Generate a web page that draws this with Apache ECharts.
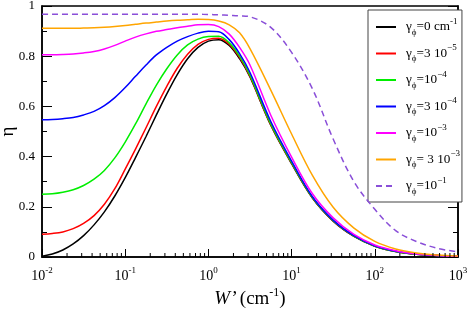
<!DOCTYPE html>
<html><head><meta charset="utf-8">
<script src="https://cdn.jsdelivr.net/npm/echarts@6/dist/echarts.min.js"></script>
<style>html,body{margin:0;padding:0;background:#fff}#c{width:469px;height:309px}</style>
</head><body><div id="c"></div>
<script>
// W' sample positions (cm^-1)
const W = [0.01, 0.0133, 0.0178, 0.0237, 0.0316, 0.0422, 0.0562, 0.075, 0.1, 0.133, 0.178, 0.237, 0.316, 0.422, 0.562, 0.75, 1, 1.33, 1.78, 2.37, 3.16, 5.62, 10, 17.8, 31.6, 56.2, 100, 178, 316, 562, 1000];
// efficiency eta for each dephasing rate
const eta0   = [0.003, 0.012, 0.028, 0.052, 0.085, 0.128, 0.18, 0.243, 0.316, 0.396, 0.48, 0.566, 0.65, 0.727, 0.79, 0.835, 0.86, 0.866, 0.843, 0.79, 0.717, 0.525, 0.372, 0.235, 0.143, 0.082, 0.043, 0.022, 0.011, 0.006, 0.003];
const eta3e5 = [0.091, 0.094, 0.10, 0.113, 0.134, 0.165, 0.21, 0.272, 0.35, 0.43, 0.515, 0.60, 0.68, 0.752, 0.808, 0.847, 0.867, 0.872, 0.848, 0.795, 0.72, 0.527, 0.374, 0.236, 0.144, 0.083, 0.044, 0.022, 0.011, 0.006, 0.003];
const eta1e4 = [0.25, 0.252, 0.258, 0.268, 0.285, 0.31, 0.345, 0.395, 0.458, 0.53, 0.61, 0.685, 0.75, 0.805, 0.845, 0.868, 0.878, 0.879, 0.853, 0.80, 0.724, 0.53, 0.376, 0.237, 0.145, 0.083, 0.044, 0.022, 0.011, 0.006, 0.003];
const eta3e4 = [0.547, 0.548, 0.551, 0.556, 0.566, 0.58, 0.603, 0.635, 0.675, 0.72, 0.765, 0.805, 0.835, 0.86, 0.878, 0.892, 0.899, 0.897, 0.866, 0.81, 0.735, 0.54, 0.382, 0.24, 0.147, 0.085, 0.045, 0.023, 0.012, 0.006, 0.003];
const eta1e3 = [0.806, 0.806, 0.807, 0.809, 0.813, 0.819, 0.829, 0.843, 0.86, 0.876, 0.889, 0.899, 0.906, 0.913, 0.919, 0.925, 0.926, 0.918, 0.888, 0.835, 0.765, 0.565, 0.398, 0.252, 0.156, 0.09, 0.048, 0.025, 0.012, 0.006, 0.003];
const eta3e3 = [0.911, 0.911, 0.911, 0.911, 0.912, 0.913, 0.915, 0.918, 0.922, 0.927, 0.932, 0.936, 0.94, 0.943, 0.945, 0.947, 0.946, 0.94, 0.925, 0.893, 0.83, 0.665, 0.49, 0.325, 0.198, 0.115, 0.062, 0.032, 0.016, 0.008, 0.004];
const eta1e1 = [0.967, 0.967, 0.967, 0.967, 0.967, 0.967, 0.967, 0.967, 0.967, 0.967, 0.967, 0.967, 0.967, 0.967, 0.967, 0.967, 0.966, 0.965, 0.963, 0.961, 0.957, 0.915, 0.815, 0.67, 0.47, 0.30, 0.19, 0.105, 0.062, 0.035, 0.02];
// legend labels (rich text)
const names = ['γφ=0 cm-1', 'γφ=3 10-5', 'γφ=10-4', 'γφ=3 10-4', 'γφ=10-3', 'γφ= 3 10-3', 'γφ=10-1'];
const legendRich = ['{g|γ}{s|ϕ}{g|=0 cm}{p|-1}', '{g|γ}{s|ϕ}{g|=3 10}{p|−5}', '{g|γ}{s|ϕ}{g|=10}{p|−4}', '{g|γ}{s|ϕ}{g|=3 10}{p|−4}', '{g|γ}{s|ϕ}{g|=10}{p|−3}', '{g|γ}{s|ϕ}{g|= 3 10}{p|−3}', '{g|γ}{s|ϕ}{g|=10}{p|−1}'];
const colors = ['#000000', '#ff0000', '#00ee00', '#0000ff', '#ff00ff', '#ffa500', '#8a4fd8'];
const allEta = [eta0, eta3e5, eta1e4, eta3e4, eta1e3, eta3e3, eta1e1];
// log minor tick positions
const minorTicks = [0.02,0.03,0.04,0.05,0.06,0.07,0.08,0.09, 0.2,0.3,0.4,0.5,0.6,0.7,0.8,0.9, 2,3,4,5,6,7,8,9, 20,30,40,50,60,70,80,90, 200,300,400,500,600,700,800,900];

const FONT = "'Liberation Serif','Times New Roman',serif";
const chart = echarts.init(document.getElementById('c'));
const series = allEta.map((e, i) => ({
  name: names[i], type: 'line', showSymbol: false, symbol: 'none', smooth: 0.35,
  data: W.map((w, j) => [w, e[j]]),
  lineStyle: { color: colors[i], width: 1.5, type: i === 6 ? [6, 4] : 'solid' },
  itemStyle: { color: colors[i] },
  z: 2 + i
}));
series.push({
  type: 'custom', silent: true, clip: false, z: 20,
  data: minorTicks.map(v => [v, 0]),
  renderItem: function (params, api) {
    const p = api.coord([api.value(0), 0]);
    return { type: 'line', shape: { x1: p[0], y1: p[1], x2: p[0], y2: p[1] - 4 }, style: { stroke: '#000', lineWidth: 1 } };
  }
});
const labMap = {};
names.forEach((n, i) => labMap[n] = legendRich[i]);

chart.setOption({
  animation: false,
  backgroundColor: '#fff',
  grid: { left: 42, right: 11, top: 6, bottom: 52, containLabel: false, outerBoundsMode: 'none', show: true, borderColor: '#000', borderWidth: 1.5, backgroundColor: 'transparent' },
  xAxis: {
    type: 'log', logBase: 10, min: 0.01, max: 1000, splitNumber: 5,
    axisLine: { lineStyle: { color: '#000', width: 1.5 } },
    axisTick: { inside: true, length: 8, lineStyle: { color: '#000', width: 1 } },
    minorTick: { show: false },
    splitLine: { show: false },
    axisLabel: {
      margin: 9, color: '#000',
      formatter: v => '{b|10}{p|' + String(Math.round(Math.log10(v))) + '}',
      rich: { b: { fontFamily: FONT, fontSize: 14, lineHeight: 20, color: '#000' }, p: { fontFamily: FONT, fontSize: 9, verticalAlign: 'top', color: '#000' } }
    },
    name: '{i|W’} {b|(cm}{p|-1}{b|)}', nameLocation: 'middle', nameGap: 30, nameMoveOverlap: false,
    nameTextStyle: { rich: { i: { fontFamily: FONT, fontStyle: 'italic', fontSize: 19, lineHeight: 24, color: '#000' }, b: { fontFamily: FONT, fontSize: 19, lineHeight: 24, color: '#000' }, p: { fontFamily: FONT, fontSize: 12, verticalAlign: 'top', color: '#000' } } }
  },
  yAxis: [{
    type: 'value', min: 0, max: 1, interval: 0.2,
    axisLine: { lineStyle: { color: '#000', width: 1.5 } },
    axisTick: { inside: true, length: 10, lineStyle: { color: '#000', width: 1 } },
    minorTick: { show: true, splitNumber: 2, length: 5, lineStyle: { color: '#000', width: 1 } },
    splitLine: { show: false },
    axisLabel: { margin: 7, color: '#000', fontFamily: FONT, fontSize: 13 },
    name: 'η', nameLocation: 'middle', nameRotate: 90, nameGap: 24, nameMoveOverlap: false,
    nameTextStyle: { fontFamily: FONT, fontSize: 19, color: '#000' }
  }, {
    type: 'value', min: 0, max: 1, interval: 0.2, position: 'right',
    axisLine: { show: true, lineStyle: { color: '#000', width: 1.5 } },
    axisTick: { inside: true, length: 10, lineStyle: { color: '#000', width: 1 } },
    minorTick: { show: true, splitNumber: 2, length: 5, lineStyle: { color: '#000', width: 1 } },
    splitLine: { show: false },
    axisLabel: { show: false }
  }],
  legend: {
    orient: 'vertical', left: 368, top: 10,
    data: names,
    backgroundColor: '#fff', borderColor: '#444', borderWidth: 1,
    padding: [7, 2, 6, 7],
    itemWidth: 20, itemHeight: 14, itemGap: 6.5,
    itemStyle: { opacity: 0 },
    formatter: n => labMap[n],
    textStyle: {
      color: '#000', padding: [0, 0, 0, 5],
      rich: {
        g: { fontFamily: FONT, fontSize: 13.2, lineHeight: 20, color: '#000' },
        s: { fontFamily: FONT, fontSize: 9, verticalAlign: 'bottom', color: '#000' },
        p: { fontFamily: FONT, fontSize: 9, verticalAlign: 'top', color: '#000' }
      }
    }
  },
  series: series
});
</script></body></html>
